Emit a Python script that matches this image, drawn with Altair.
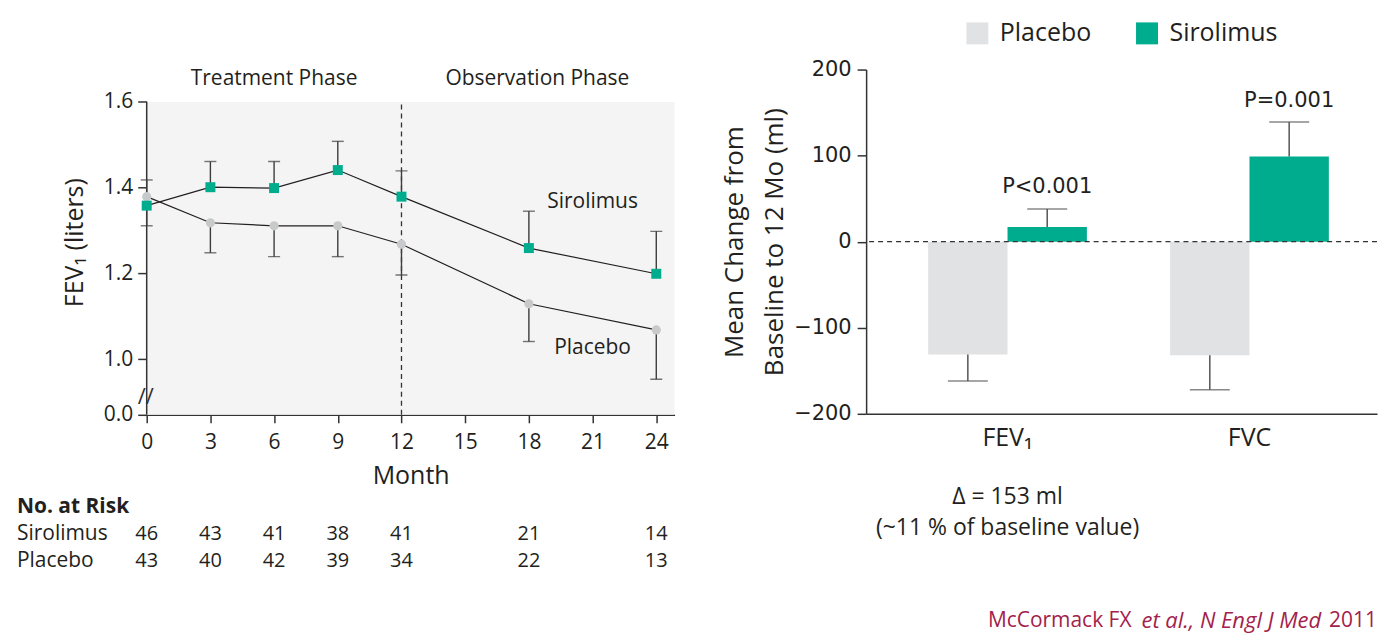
import altair as alt
import pandas as pd

# ---------------- data ----------------
months = [0, 3, 6, 9, 12, 18, 24]
siro_fev1 = [1.358, 1.401, 1.399, 1.441, 1.379, 1.259, 1.199]
siro_err = [1.311, 1.461, 1.461, 1.508, 1.439, 1.345, 1.298]
plac_fev1 = [1.379, 1.318, 1.311, 1.311, 1.268, 1.129, 1.068]
plac_err = [1.418, 1.248, 1.239, 1.239, 1.196, 1.041, 0.953]
risk_siro = [46, 43, 41, 38, 41, 21, 14]
risk_plac = [43, 40, 42, 39, 34, 22, 13]
x_ticks = [0, 3, 6, 9, 12, 15, 18, 21, 24]
y_ticks = [1.0, 1.2, 1.4, 1.6]
phases = ["Treatment Phase", "Observation Phase"]
phase_mid = [6, 18.4]
series_names = ["Sirolimus", "Placebo"]
series_lab_x = [21, 21]
series_lab_y = [1.366, 1.026]

measures = ["FEV\u2081", "FVC"]
groups = ["Placebo", "Sirolimus"]
plac_change = [-131, -132]
plac_change_err = [-162, -172]
siro_change = [17, 99]
siro_change_err = [38, 139]
p_labels = ["P<0.001", "P=0.001"]
y2_ticks = [-200, -100, 0, 100, 200]

TEAL = "#00AC8E"
GRAY_BAR = "#E1E2E4"
GRAY_PT = "#C8C9CB"
INK = "#231F20"
AX = "#333333"
FONT = "Open Sans"

# ---------------- left panel ----------------
W1, H1 = 529, 346
XMAX = 24.86
YMIN, YMAX, YTOP = 0.870, 1.6755, 1.6

df_left = pd.DataFrame({
    "month": months * 2,
    "group": ["Sirolimus"] * 7 + ["Placebo"] * 7,
    "fev1": siro_fev1 + plac_fev1,
    "err": siro_err + plac_err,
})
dummy = pd.DataFrame({"z": [0]})

xs = alt.Scale(domain=[0, XMAX], nice=False, zero=False)
ys = alt.Scale(domain=[YMIN, YMAX], nice=False, zero=False)
xaxis = alt.Axis(values=x_ticks, title="Month", grid=False, tickSize=8, tickWidth=1.5,
                 domainWidth=1.5, domainColor=AX, tickColor=AX, labelFontSize=21,
                 labelColor=INK, labelPadding=9, titleFontSize=25, titleFontWeight="normal",
                 titleColor=INK, titlePadding=11, labelFlush=False)
yaxis = alt.Axis(values=[YMIN] + y_ticks,
                 labelExpr="datum.value < 0.95 ? '0.0' : format(datum.value, '.1f')",
                 domain=False, grid=False, tickSize=9, tickWidth=1.5, tickColor=AX,
                 labelFontSize=21, labelColor=INK, labelPadding=5,
                 title="FEV\u2081 (liters)", titleFontSize=25, titleFontWeight="normal",
                 titleColor=INK, titlePadding=16)

X = alt.X("month:Q", scale=xs, axis=xaxis)
Y = alt.Y("fev1:Q", scale=ys, axis=yaxis)

bg = alt.Chart(dummy).mark_rect(color="#F4F4F4").encode(
    x=alt.datum(0), x2=alt.datum(XMAX), y=alt.datum(YMIN), y2=alt.datum(YTOP))
yline = alt.Chart(dummy).mark_rule(color=AX, strokeWidth=1.5).encode(
    x=alt.datum(0), y=alt.datum(YMIN), y2=alt.datum(YTOP))
brk = alt.Chart(dummy).mark_text(text="//", fontSize=22, color=AX, dx=-1).encode(
    x=alt.datum(0), y=alt.datum(0.912))
dash12 = alt.Chart(dummy).mark_rule(color=AX, strokeWidth=1.3, strokeDash=[5, 4]).encode(
    x=alt.datum(12), y=alt.datum(YMIN), y2=alt.datum(YTOP))
lines = alt.Chart(df_left).mark_line(color=INK, strokeWidth=1.2).encode(
    x=X, y=Y, detail="group:N")
errs = alt.Chart(df_left).mark_rule(color="#3C3C3C", strokeWidth=1.4).encode(
    x="month:Q", y="fev1:Q", y2="err:Q")
caps = alt.Chart(df_left).mark_tick(orient="horizontal", size=12, thickness=1.4,
                                    color="#3C3C3C").encode(x="month:Q", y="err:Q")
pts_p = alt.Chart(df_left).transform_filter("datum.group == 'Placebo'").mark_circle(
    size=85, color=GRAY_PT, opacity=1).encode(x="month:Q", y="fev1:Q")
pts_s = alt.Chart(df_left).transform_filter("datum.group == 'Sirolimus'").mark_square(
    size=100, color=TEAL, opacity=1).encode(x="month:Q", y="fev1:Q")

df_phase = pd.DataFrame({"x": phase_mid, "t": phases})
phase_txt = alt.Chart(df_phase).mark_text(fontSize=21, color=INK).encode(
    x="x:Q", y=alt.value(9), text="t:N")
df_slab = pd.DataFrame({"x": series_lab_x, "y": series_lab_y, "t": series_names})
slab = alt.Chart(df_slab).mark_text(fontSize=21, color=INK).encode(
    x="x:Q", y="y:Q", text="t:N")

df_risk = pd.DataFrame({"month": months, "s": risk_siro, "p": risk_plac})
risk_s = alt.Chart(df_risk).mark_text(fontSize=20, color=INK).encode(
    x="month:Q", y=alt.value(465), text="s:Q")
risk_p = alt.Chart(df_risk).mark_text(fontSize=20, color=INK).encode(
    x="month:Q", y=alt.value(493), text="p:Q")
risk_head = alt.Chart(dummy).mark_text(text="No. at Risk", fontSize=21, fontWeight="bold",
                                       align="left", color=INK).encode(
    x=alt.value(-130), y=alt.value(438))
risk_lab1 = alt.Chart(dummy).mark_text(text="Sirolimus", fontSize=21, align="left",
                                       color=INK).encode(x=alt.value(-130), y=alt.value(465))
risk_lab2 = alt.Chart(dummy).mark_text(text="Placebo", fontSize=21, align="left",
                                       color=INK).encode(x=alt.value(-130), y=alt.value(493))

left = alt.layer(lines, bg, dash12, yline, brk, errs, caps, lines, pts_p, pts_s,
                 phase_txt, slab, risk_s, risk_p, risk_head, risk_lab1, risk_lab2
                 ).properties(width=W1, height=H1)

# ---------------- right panel ----------------
W2, H2 = 512, 345
df_right = pd.DataFrame({
    "measure": measures * 2,
    "group": ["Placebo"] * 2 + ["Sirolimus"] * 2,
    "change": plac_change + siro_change,
    "err": plac_change_err + siro_change_err,
})
df_p = pd.DataFrame({"measure": measures, "group": ["Sirolimus"] * 2,
                     "y": [e + 25 for e in siro_change_err], "t": p_labels})

X2 = alt.X("measure:N", sort=measures,
           scale=alt.Scale(paddingInner=0.344, paddingOuter=0.2277, align=0.563),
           axis=alt.Axis(title=None, labelAngle=0, ticks=False, labelFontSize=25,
                         labelColor=INK, labelPadding=12, domainColor=AX, domainWidth=1.5))
XO = alt.XOffset("group:N", sort=groups, scale=alt.Scale(paddingInner=0, paddingOuter=0))
Y2 = alt.Y("change:Q", scale=alt.Scale(domain=[-200, 200], nice=False),
           axis=alt.Axis(values=y2_ticks, grid=False, tickSize=9, tickWidth=1.5, tickColor=AX,
                         domainColor=AX, domainWidth=1.5, labelFontSize=21,
                         labelFont="DejaVu Sans", labelColor=INK, labelPadding=6,
                         title=["Mean Change from", "Baseline to 12 Mo (ml)"],
                         titleFontSize=26, titleFontWeight="normal", titleColor=INK,
                         titleLineHeight=40, titlePadding=6))

bars = alt.Chart(df_right).mark_bar().encode(
    x=X2, xOffset=XO, y=Y2,
    color=alt.Color("group:N", sort=groups,
                    scale=alt.Scale(domain=groups, range=[GRAY_BAR, TEAL]),
                    legend=alt.Legend(orient="none", legendX=820, legendY=-49,
                                      direction="horizontal", title=None,
                                      symbolType="square", symbolSize=484,
                                      symbolStrokeWidth=0, labelFontSize=25,
                                      labelColor=INK, labelOffset=10,
                                      columnPadding=43, padding=0)))
zero = alt.Chart(dummy).mark_rule(color=AX, strokeWidth=1.2, strokeDash=[5, 4]).encode(
    y=alt.datum(0))
err2 = alt.Chart(df_right).mark_rule(color="#555555", strokeWidth=1.5).encode(
    x="measure:N", xOffset="group:N", y="change:Q", y2="err:Q")
cap2 = alt.Chart(df_right).mark_tick(size=40, thickness=1.5, color="#555555").encode(
    x="measure:N", xOffset="group:N", y="err:Q")
ptxt = alt.Chart(df_p).mark_text(fontSize=21, font="DejaVu Sans", color=INK).encode(
    x="measure:N", xOffset="group:N", y="y:Q", text="t:N")
df_delta = pd.DataFrame({"measure": [measures[0]] * 2,
                         "t": ["\u0394 = 153 ml", "(~11 % of baseline value)"]})
delta1 = alt.Chart(df_delta.iloc[[0]]).mark_text(fontSize=23, color=INK).encode(
    x="measure:N", y=alt.value(428), text="t:N")
delta2 = alt.Chart(df_delta.iloc[[1]]).mark_text(fontSize=23, color=INK).encode(
    x="measure:N", y=alt.value(459), text="t:N")
CRIM = "#A3224B"
cit1 = alt.Chart(dummy).mark_text(text="McCormack FX", fontSize=21, color=CRIM).encode(
    x=alt.value(1062 - 868), y=alt.value(553))
cit2 = alt.Chart(dummy).mark_text(text="et al., N Engl J Med", fontSize=22, fontStyle="italic",
                                  color=CRIM).encode(x=alt.value(1234 - 868), y=alt.value(553))
cit3 = alt.Chart(dummy).mark_text(text="2011", fontSize=21, color=CRIM).encode(
    x=alt.value(1356 - 868), y=alt.value(553))

right = alt.layer(bars, zero, err2, cap2, ptxt, delta1, delta2, cit1, cit2, cit3
                  ).properties(width=W2, height=H2)

chart = alt.hconcat(left, right, spacing=192, bounds="flush").properties(
    padding={"left": 9, "top": 12, "right": 0, "bottom": 4}
).configure(font=FONT).configure_view(stroke=None).configure_text(font=FONT)

chart.save("out.html", embed_options={"renderer": "svg", "actions": False})
